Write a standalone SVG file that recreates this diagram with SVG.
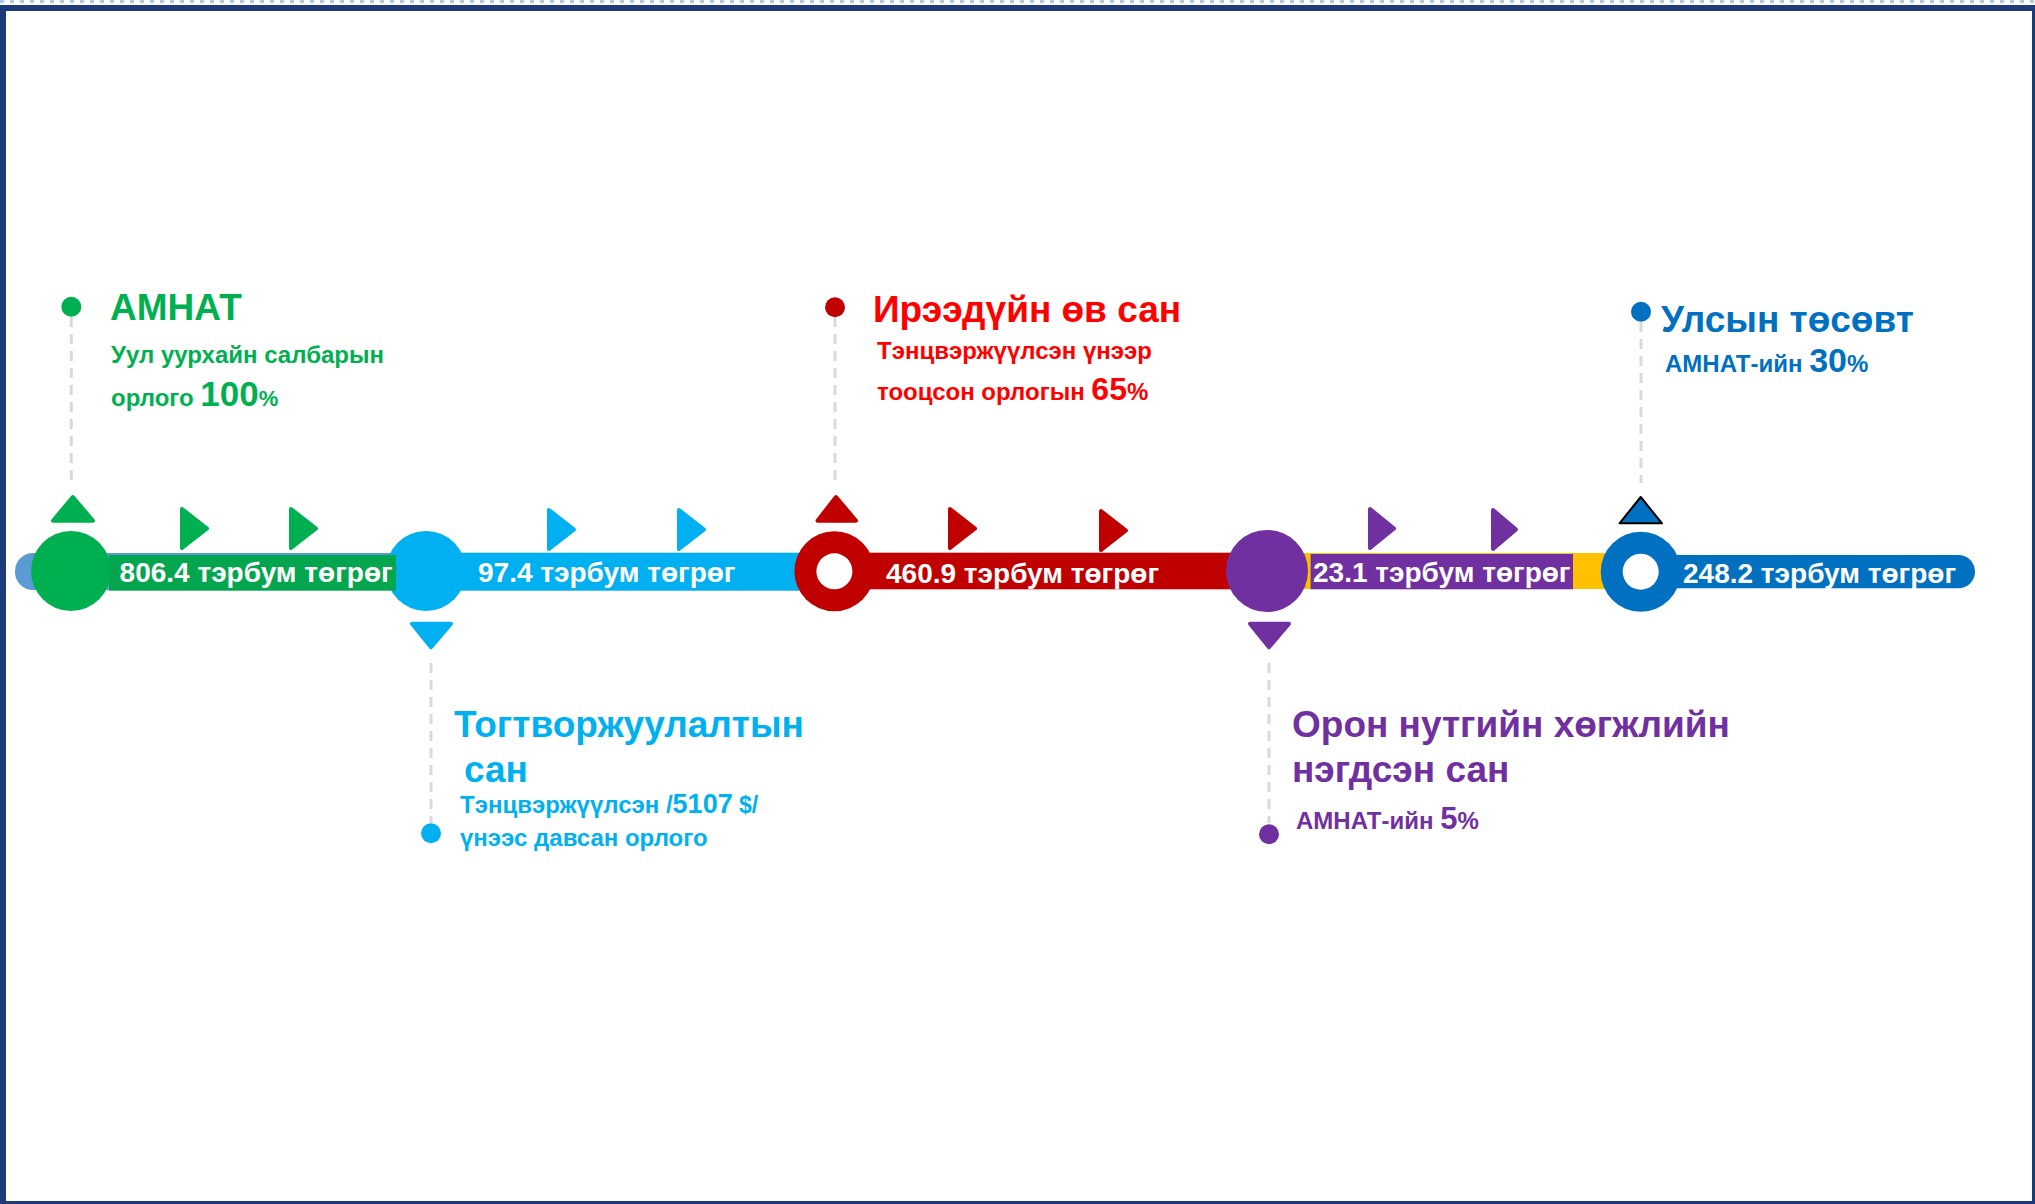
<svg xmlns="http://www.w3.org/2000/svg" width="2035" height="1204" viewBox="0 0 2035 1204">
<style>
text{font-family:"Liberation Sans",Arial,sans-serif;font-weight:bold}
.t{font-size:37px}
.s{font-size:24px}
.lbl{font-size:28px;fill:#fff}
.dash{stroke:#D9D9D9;stroke-width:3;stroke-dasharray:10 7;fill:none}
.tri{stroke-linejoin:round;stroke-width:4}
.g{fill:#00B050;stroke:#00B050}
.lb{fill:#00B0F0;stroke:#00B0F0}
.r{fill:#C00000;stroke:#C00000}
.p{fill:#7030A0;stroke:#7030A0}
</style>
<rect x="0" y="0" width="2035" height="1204" fill="#fff"/>
<line x1="0" y1="1.5" x2="2035" y2="1.5" stroke="#A9CBEA" stroke-width="3" stroke-dasharray="4 6"/>
<rect x="3" y="8" width="2032" height="1196" fill="none" stroke="#1F3A78" stroke-width="6"/>

<g id="connectors">
<line class="dash" x1="71.3" y1="317" x2="71.3" y2="483"/>
<line class="dash" x1="835" y1="317" x2="835" y2="487"/>
<line class="dash" x1="1641" y1="322" x2="1641" y2="483"/>
<line class="dash" x1="431" y1="663" x2="431" y2="823"/>
<line class="dash" x1="1269" y1="663" x2="1269" y2="823"/>
<rect x="15" y="553" width="400" height="37" rx="18" fill="#5B9BD5"/>
<rect x="426" y="552.7" width="410" height="38" fill="#00B0F0"/>
<rect x="834" y="552.7" width="434" height="36.6" fill="#C00000"/>
<rect x="1266" y="553" width="376" height="36" fill="#FFC000"/>
<rect x="1640" y="555" width="335" height="33.3" rx="16.6" fill="#0070C0"/>
<rect x="1620" y="555" width="40" height="33.3" fill="#0070C0"/>
<rect x="1310.6" y="554" width="262.4" height="35.3" fill="#7030A0"/>
<path class="tri g" d="M182,509 L207,528.5 L182,548 Z"/>
<path class="tri g" d="M291,509 L316,528.5 L291,548 Z"/>
<path class="tri lb" d="M549,510 L574,529.5 L549,549 Z"/>
<path class="tri lb" d="M679,510 L704,529.5 L679,549 Z"/>
<path class="tri r" d="M950,509 L975,528.5 L950,548 Z"/>
<path class="tri r" d="M1101,511 L1126,530.5 L1101,550 Z"/>
<path class="tri p" d="M1370,509 L1394,528.5 L1370,548 Z"/>
<path class="tri p" d="M1493,510 L1516,529.5 L1493,549 Z"/>
</g>

<g id="node-togtvorjuulalt">
<circle cx="426" cy="571" r="40" fill="#00B0F0"/>
<path class="tri lb" d="M412,623.7 L451,623.7 L431,647.3 Z"/>
<circle cx="431" cy="833.3" r="10" fill="#00B0F0"/>
<text class="t" x="454" y="737.3" fill="#00B0F0" font-size="35.5">Тогтворжуулалтын</text>
<text class="t" x="464" y="781.7" fill="#00B0F0" font-size="35.5">сан</text>
<text class="s" x="460" y="813.3" fill="#00B0F0">Тэнцвэржүүлсэн /<tspan font-size="27">5107</tspan><tspan font-size="23"> $/</tspan></text>
<text class="s" x="460" y="846" fill="#00B0F0">үнээс давсан орлого</text>
<text class="lbl" x="478" y="582">97.4 тэрбум төгрөг</text>
</g>

<g id="node-amnat">
<circle cx="71" cy="571" r="40" fill="#00B050"/>
<rect x="109" y="555" width="287" height="35.7" fill="#03A64E"/>
<path class="tri g" d="M72.8,497 L93,520.7 L53,520.7 Z"/>
<circle cx="71.3" cy="306.7" r="10" fill="#00B050"/>
<text class="t" x="110" y="320" fill="#00B050">АМНАТ</text>
<text class="s" x="111" y="363" fill="#00B050">Уул уурхайн салбарын</text>
<text class="s" x="111" y="405.7" fill="#00B050">орлого <tspan font-size="35">100</tspan><tspan font-size="22">%</tspan></text>
<text class="lbl" x="119.6" y="581.7">806.4 тэрбум төгрөг</text>
</g>

<g id="node-ireedui">
<circle cx="834.4" cy="571.3" r="40" fill="#C00000"/>
<circle cx="834.4" cy="571.3" r="18" fill="#fff"/>
<path class="tri r" d="M836,497 L856,520.7 L817.5,520.7 Z"/>
<circle cx="835" cy="307.3" r="10" fill="#C00000"/>
<text class="t" x="873" y="322.3" fill="#FF0000" font-size="36.6">Ирээдүйн өв сан</text>
<text class="s" x="877" y="359.3" fill="#FF0000">Тэнцвэржүүлсэн үнээр</text>
<text class="s" x="877" y="400" fill="#FF0000">тооцсон орлогын <tspan font-size="32">65</tspan>%</text>
<text class="lbl" x="886" y="583.3">460.9 тэрбум төгрөг</text>
</g>

<g id="node-oron-nutag">
<circle cx="1267" cy="571" r="41" fill="#7030A0"/>
<path class="tri p" d="M1250,623.7 L1289,623.7 L1269,647.3 Z"/>
<circle cx="1269" cy="834.3" r="10" fill="#7030A0"/>
<text class="t" x="1292" y="737.3" fill="#7030A0" font-size="35.5">Орон нутгийн хөгжлийн</text>
<text class="t" x="1292" y="781.7" fill="#7030A0" font-size="35.5">нэгдсэн сан</text>
<text class="s" x="1296" y="829.3" fill="#7030A0">АМНАТ-ийн <tspan font-size="31">5</tspan>%</text>
<text class="lbl" x="1313" y="581.7">23.1 тэрбум төгрөг</text>
</g>

<g id="node-ulsyn-tosov">
<circle cx="1640.7" cy="571.7" r="40" fill="#0070C0"/>
<circle cx="1640.7" cy="571.7" r="18" fill="#fff"/>
<path d="M1640.7,497 L1662,523.3 L1619.5,523.3 Z" fill="#0070C0" stroke="#000" stroke-width="2" stroke-linejoin="round"/>
<circle cx="1641" cy="311.7" r="10" fill="#0070C0"/>
<text class="t" x="1661" y="331.7" fill="#0070C0">Улсын төсөвт</text>
<text class="s" x="1665" y="371.7" fill="#0070C0">АМНАТ-ийн <tspan font-size="34">30</tspan>%</text>
<text class="lbl" x="1683" y="582.7">248.2 тэрбум төгрөг</text>
</g>
</svg>
